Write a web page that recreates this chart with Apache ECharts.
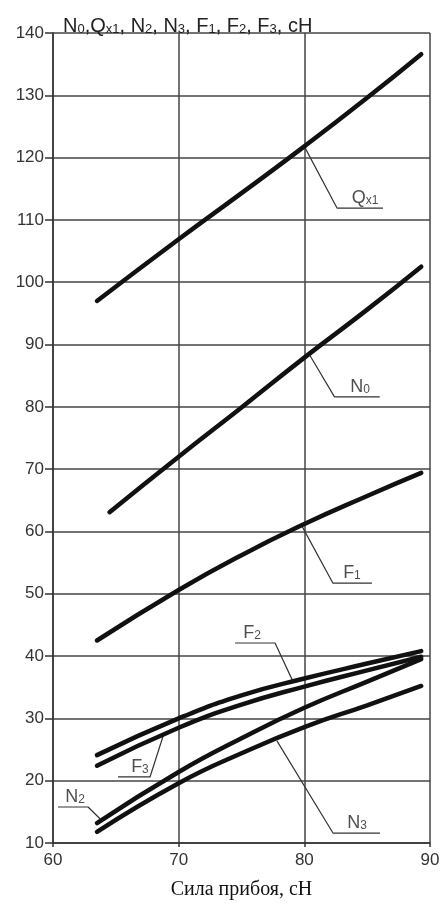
<!DOCTYPE html>
<html>
<head>
<meta charset="utf-8">
<script src="https://cdn.jsdelivr.net/npm/echarts@6/dist/echarts.min.js"></script>
<style>
html,body{margin:0;padding:0;background:#fff;}
#chart{width:446px;height:908px;}
</style>
</head>
<body>
<div id="chart"></div>
<script>
// X values (Сила прибоя, сН) and curve values
const xQ  = [63.5, 70, 75, 80, 85, 89.3];
const Qx1 = [97, 106.9, 114.3, 121.8, 129.6, 136.6];
const xN0 = [64.5, 70, 75, 80, 85, 89.3];
const N0  = [63.1, 72, 79.9, 87.9, 95.6, 102.5];
const xF  = [63.5, 70, 75, 80, 85, 89.3];
const F1  = [42.5, 50.6, 56.2, 61.2, 65.7, 69.4];
const F2  = [24.1, 30.0, 33.7, 36.4, 38.8, 40.8];
const F3  = [22.4, 28.5, 32.2, 35.1, 37.7, 39.9];
const N2  = [13.2, 21.4, 26.8, 31.7, 35.9, 39.5];
const N3  = [11.8, 19.6, 24.4, 28.6, 32.1, 35.2];

const xTicks = {min: 60, max: 90, step: 10};
const yTicks = {min: 10, max: 140, step: 10};

// annotation leader lines (data coordinates) and label anchors
const leaders = [
  [[80.05, 121.6], [82.6, 111.9], [86.26, 111.9]],
  [[80.4, 88.4], [82.4, 81.6], [86.0, 81.6]],
  [[79.8, 60.9], [82.28, 51.7], [85.38, 51.7]],
  [[74.48, 42.1], [77.67, 42.1], [79.1, 35.9]],
  [[65.17, 20.6], [67.72, 20.6], [68.75, 27.1]],
  [[60.4, 15.78], [62.79, 15.78], [63.74, 13.9]],
  [[77.82, 26.4], [82.28, 11.6], [86.02, 11.6]]
];
const labels = [
  {pos: [84.83, 111.9], main: 'Q', sub: 'x1'},
  {pos: [84.43, 81.6], main: 'N', sub: '0'},
  {pos: [83.79, 51.7], main: 'F', sub: '1'},
  {pos: [75.84, 42.1], main: 'F', sub: '2'},
  {pos: [66.92, 20.6], main: 'F', sub: '3'},
  {pos: [61.75, 15.78], main: 'N', sub: '2'},
  {pos: [84.19, 11.6], main: 'N', sub: '3'}
];

const FONT = '"Liberation Sans", Arial, sans-serif';
const zip = (xs, ys) => xs.map((x, i) => [x, ys[i]]);

const curve = (name, xs, ys) => ({
  name, type: 'line', smooth: 0.5, symbol: 'none',
  data: zip(xs, ys),
  lineStyle: {color: '#111', width: 4.5, cap: 'round'},
  z: 5
});

const series = [
  curve('Qx1', xQ, Qx1),
  curve('N0', xN0, N0),
  curve('F1', xF, F1),
  curve('F2', xF, F2),
  curve('F3', xF, F3),
  curve('N2', xF, N2),
  curve('N3', xF, N3)
];
leaders.forEach((pts, i) => {
  series.push({
    name: 'leader' + i, type: 'line', symbol: 'none', data: pts,
    lineStyle: {color: '#333', width: 1.2}, z: 4, silent: true
  });
});
series.push({
  name: 'labels', type: 'scatter', symbolSize: 0,
  data: labels.map(l => ({
    value: l.pos,
    label: {formatter: '{a|' + l.main + '}{s|' + l.sub + '}'}
  })),
  label: {
    show: true, position: 'top', distance: 1,
    rich: {
      a: {fontSize: 18, fontFamily: FONT, color: '#222', verticalAlign: 'bottom', lineHeight: 20},
      s: {fontSize: 12, fontFamily: FONT, color: '#222', verticalAlign: 'bottom', lineHeight: 14}
    }
  },
  z: 6, silent: true
});

const chart = echarts.init(document.getElementById('chart'), null, {renderer: 'canvas'});
chart.setOption({
  backgroundColor: '#fff',
  animation: false,
  title: {
    text: '{a|N}{s|0}{a|,Q}{s|x1}{a|, N}{s|2}{a|, N}{s|3}{a|, F}{s|1}{a|, F}{s|2}{a|, F}{s|3}{a|, сН}',
    left: 58, top: 8,
    textStyle: {
      fontWeight: 'normal',
      rich: {
        a: {fontSize: 20, fontFamily: FONT, fontWeight: 'normal', color: '#222', verticalAlign: 'bottom', lineHeight: 23},
        s: {fontSize: 13, fontFamily: FONT, fontWeight: 'normal', color: '#222', verticalAlign: 'bottom', lineHeight: 16}
      }
    }
  },
  grid: {left: 53, right: 16, top: 33, bottom: 65},
  xAxis: {
    type: 'value', min: xTicks.min, max: xTicks.max, interval: xTicks.step,
    name: 'Сила прибоя, сН', nameLocation: 'middle', nameGap: 37,
    nameTextStyle: {fontFamily: '"Liberation Serif", "Times New Roman", serif', fontSize: 20, color: '#111'},
    axisLine: {show: true, lineStyle: {color: '#333', width: 1.5}},
    axisTick: {show: true, length: 4, lineStyle: {color: '#333', width: 1.5}},
    axisLabel: {fontSize: 17, fontFamily: FONT, color: '#333', margin: 9},
    splitLine: {show: true, lineStyle: {color: '#444', width: 1.5}}
  },
  yAxis: {
    type: 'value', min: yTicks.min, max: yTicks.max, interval: yTicks.step,
    axisLine: {show: true, lineStyle: {color: '#333', width: 1.5}},
    axisTick: {show: true, length: 8, lineStyle: {color: '#333', width: 1.5}},
    axisLabel: {fontSize: 17, fontFamily: FONT, color: '#333', margin: 9},
    splitLine: {show: true, lineStyle: {color: '#444', width: 1.5}}
  },
  series
});
</script>
</body>
</html>
